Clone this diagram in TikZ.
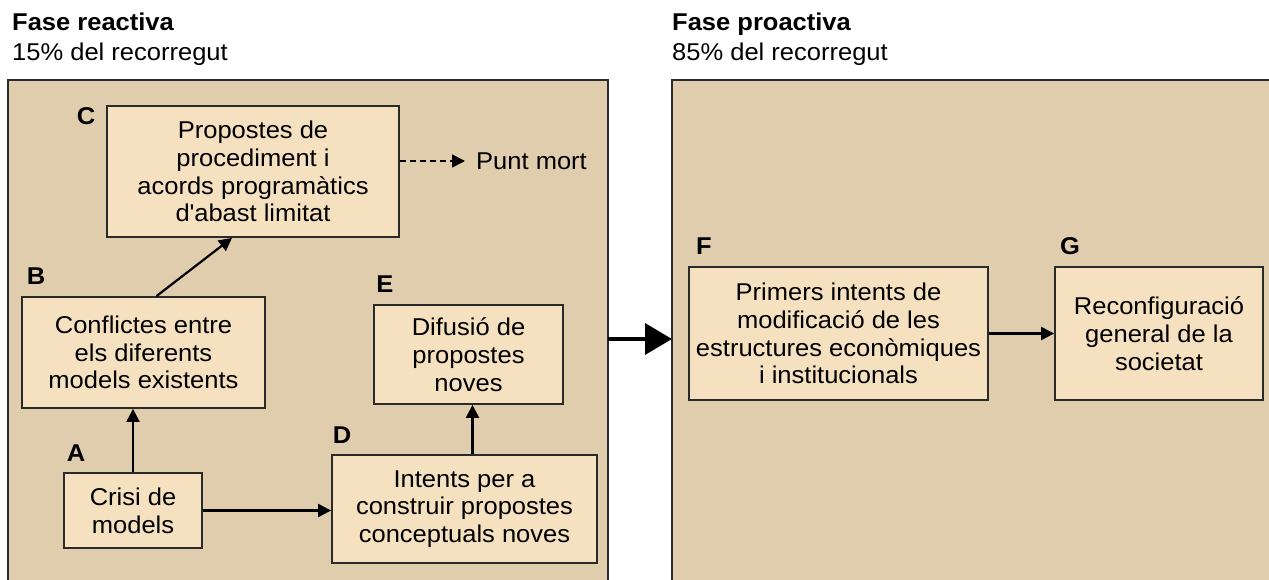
\documentclass[tikz,border=0pt]{standalone}
\usepackage{fontspec}
\setmainfont[FakeStretch=1.05]{Liberation Sans}
\usetikzlibrary{arrows.meta,calc}
\definecolor{panelfill}{HTML}{E0CDAD}
\definecolor{boxfill}{HTML}{F5E1C0}
\definecolor{edge}{HTML}{2A2A2A}
\newcommand{\txtsize}{\fontsize{24.3}{27.7}\selectfont}
\tikzset{
  panel/.style={draw=edge, line width=1.5pt, fill=panelfill},
  stepbox/.style={draw=edge, line width=1.8pt, fill=boxfill, align=center, inner sep=0pt,
    font=\txtsize},
  letter/.style={font=\txtsize\bfseries, inner sep=0pt},
  heading/.style={font=\txtsize, anchor=base west, inner sep=0pt},
  conn/.style={draw=black, line width=2.2pt, -{Triangle[length=13pt,width=13pt]}},
}
\begin{document}
\begin{tikzpicture}[x=1pt,y=-1pt]
\useasboundingbox (0,0) rectangle (1269,580);
\clip (0,0) rectangle (1269,580);
% headings
\node[heading, font=\txtsize\bfseries] (h1) at (12,31) {Fase reactiva};
\node[heading] (s1) at (12,61) {15\% del recorregut};
\node[heading, font=\txtsize\bfseries] (h2) at (672,31) {Fase proactiva};
\node[heading] (s2) at (672,61) {85\% del recorregut};
% panels
\draw[panel] (8,80) rectangle (608,600);
\draw[panel] (672,80) rectangle (1290,600);
% boxes
\node[stepbox, minimum width=292pt, minimum height=131pt] (C) at (253,171.5)
  {Propostes de\\procediment i\\acords programàtics\\d\textquotesingle abast limitat};
\node[stepbox, minimum width=243pt, minimum height=111pt] (B) at (143.5,352.5)
  {Conflictes entre\\els diferents\\models existents};
\node[stepbox, minimum width=138pt, minimum height=75pt] (A) at (133,510.5)
  {Crisi de\\models};
\node[stepbox, minimum width=265pt, minimum height=108pt] (D) at (464.5,509)
  {Intents per a\\construir propostes\\conceptuals noves};
\node[stepbox, minimum width=189pt, minimum height=99pt] (E) at (468.5,354.5)
  {Difusió de\\propostes\\noves};
\node[stepbox, minimum width=299pt, minimum height=133pt] (F) at (838.5,333.5)
  {Primers intents de\\modificació de les\\estructures econòmiques\\i institucionals};
\node[stepbox, minimum width=208pt, minimum height=133pt] (G) at (1159,333.5)
  {Reconfiguració\\general de la\\societat};
% letters
\node[letter] (lC) at (86,116) {C};
\node[letter] (lB) at (36,276) {B};
\node[letter] (lA) at (76,453) {A};
\node[letter] (lD) at (342,435) {D};
\node[letter] (lE) at (385,284) {E};
\node[letter] (lF) at (704,246) {F};
\node[letter] (lG) at (1070,246) {G};
% Punt mort
\node[font=\txtsize, anchor=west, inner sep=0pt] (P) at (476,161) {Punt mort};
\coordinate (Ptip) at (465,161);
% connectors
\draw[conn] (A.north) -- (A.north |- B.south);
\draw[conn] (A.east) -- (A.east -| D.west);
\coordinate (DE) at ($(D.north)+(8,0)$);
\draw[conn] (DE) -- (DE |- E.south);
\draw[conn] ($(B.north)+(13,0)$) -- ($(C.south)+(-21,0)$);
\draw[conn, dash pattern=on 6pt off 4pt, line width=1.6pt] (C.east |- Ptip) -- (Ptip);
\draw[conn] (F.east) -- (G.west);
\coordinate (bigA) at (608,339);
\coordinate (bigB) at (672,339);
\draw[line width=3.5pt, -{Triangle[length=27pt,width=31pt]}] (bigA) -- (bigB);
\end{tikzpicture}
\end{document}
